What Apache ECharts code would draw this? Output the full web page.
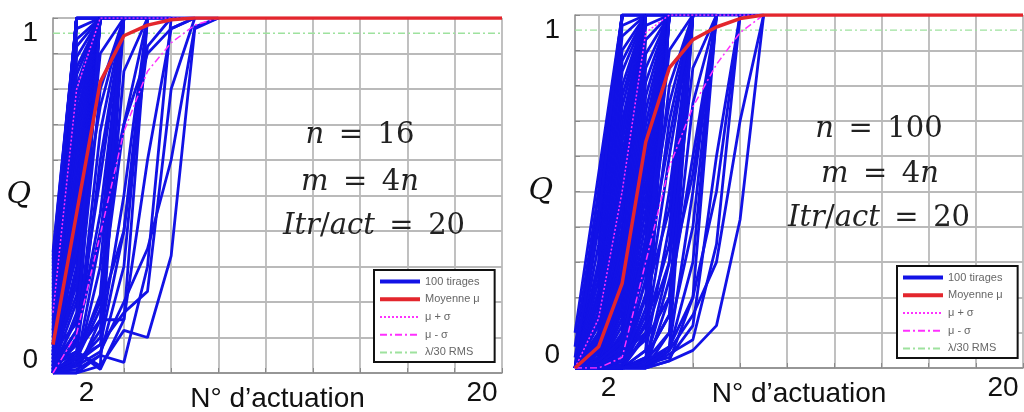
<!DOCTYPE html>
<html><head><meta charset="utf-8">
<script src="https://cdn.jsdelivr.net/npm/echarts@6/dist/echarts.min.js"></script>
<style>html,body{margin:0;padding:0;background:#fff}#c{width:1024px;height:412px}</style>
</head><body><div id="c"></div>
<script>
// ---------- data ----------
const actuations = ['1','2','3','4','5','6','7','8','9','10','11','12','13','14','15','16','17','18','19','20'];
const xTickShown = ['2','20'];
const yTickShown = [0, 1];
const legendNames = ['100 tirages', 'Moyenne \u03bc', '\u03bc + \u03c3', '\u03bc - \u03c3', '\u03bb/30 RMS'];
const rms30 = 0.957;

// Panel A : n = 16  (values at actuation 1, 2, 3, ...; each run listed until it reaches 1)
const meanA  = [0.08,0.45,0.82,0.95,0.98,0.995,1,1,1,1,1,1,1,1,1,1,1,1,1,1];
const plusA  = [0.17,0.80,1,1,1,1,1,1];
const minusA = [0.0,0.11,0.39,0.68,0.85,0.93,0.98,1];
const runsA = [
  // reach 1 at actuation 2
  [0.00,1,1,1,1,1,1,1],[0.01,1,1,1,1,1,1],[0.02,1,1,1,1,1],[0.03,1,1,1,1],[0.04,1,1,1],
  [0.05,1],[0.06,1],[0.07,1],[0.08,1],[0.09,1],[0.10,1],[0.11,1],[0.12,1],[0.13,1],[0.14,1],
  [0.15,1],[0.16,1],[0.17,1],[0.18,1],[0.19,1],[0.20,1],[0.21,1],[0.22,1],[0.23,1],[0.24,1],
  [0.25,1],[0.26,1],[0.27,1],[0.28,1],[0.29,1],[0.30,1],[0.31,1],[0.32,1],[0.33,1],[0.34,1],
  // reach 1 at actuation 3
  [0.00,0.97,1],[0.02,0.94,1],[0.05,0.92,1],[0.01,0.89,1],[0.08,0.86,1],[0.03,0.84,1],
  [0.00,0.81,1],[0.12,0.78,1],[0.04,0.76,1],[0.06,0.73,1],[0.00,0.70,1],[0.02,0.68,1],
  [0.05,0.65,1],[0.01,0.62,1],[0.08,0.60,1],[0.03,0.57,1],[0.00,0.54,1],[0.10,0.52,1],
  [0.04,0.49,1],[0.06,0.46,1],[0.00,0.44,1],[0.02,0.41,1],[0.05,0.38,1],[0.01,0.36,1],
  [0.07,0.33,1],[0.03,0.30,1],[0.00,0.28,1],[0.09,0.25,1],[0.04,0.22,1],[0.02,0.20,1],
  [0.00,0.17,1],[0.06,0.14,1],[0.01,0.12,1],[0.00,0.09,1],[0.03,0.06,1],
  // reach 1 at actuation 4
  [0.00,0.05,0.60,1],[0.02,0.15,0.80,1],[0.00,0.10,0.45,1],[0.03,0.25,0.90,1],
  [0.01,0.02,0.30,1],[0.05,0.35,0.75,1],[0.00,0.00,0.15,1],[0.00,0.06,0.02,1],
  [0.02,0.12,0.55,1],[0.00,0.04,0.22,1],[0.01,0.08,0.68,1],[0.00,0.03,0.38,1],
  // reach 1 at actuation 5 and later
  [0.00,0.03,0.10,0.50,1],[0.00,0.05,0.20,0.70,1],[0.00,0.01,0.05,0.30,1],
  [0.02,0.06,0.15,0.15,1],[0.00,0.02,0.12,0.85,1],[0.01,0.04,0.08,0.40,1],
  [0.00,0.00,0.05,0.03,0.30,1],[0.01,0.04,0.18,0.40,0.92,1],
  [0.00,0.10,0.40,0.70,0.90,0.97,1],
  [0.00,0.03,0.08,0.17,0.23,0.80,1],
  [0.02,0.06,0.01,0.15,0.60,0.97,1],
  [0.00,0.00,0.02,0.12,0.10,0.33,0.97,1],
  [0.00,0.02,0.06,0.20,0.35,0.60,0.975,1]
];

// Panel B : n = 100
const meanB  = [0.0,0.06,0.24,0.64,0.85,0.93,0.966,0.99,1,1,1,1,1,1,1,1,1,1,1,1];
const plusB  = [0.0,0.14,0.50,0.95,1,1,1,1,1];
const minusB = [0.0,0.0,0.03,0.30,0.57,0.74,0.86,0.95,1];
const runsB = [
  // reach 1 at actuation 3
  [0,0.50,1,1,1,1,1,1,1],[0,0.45,1,1,1,1,1],[0,0.40,1,1,1],[0,0.35,1],[0,0.30,1],
  [0,0.25,1],[0,0.20,1],[0,0.15,1],[0,0.10,1],[0,0.05,1],
  [0.10,0.55,1],[0.06,0.50,1],[0.03,0.42,1],
  // reach 1 at actuation 4
  [0,0.30,0.97,1],[0,0.28,0.94,1],[0,0.25,0.90,1],[0,0.22,0.87,1],[0,0.20,0.84,1],
  [0,0.18,0.80,1],[0,0.16,0.77,1],[0,0.15,0.74,1],[0,0.13,0.70,1],[0,0.12,0.67,1],
  [0,0.10,0.64,1],[0,0.09,0.60,1],[0,0.08,0.57,1],[0,0.07,0.54,1],[0,0.06,0.50,1],
  [0,0.05,0.47,1],[0,0.04,0.44,1],[0,0.03,0.40,1],[0,0.03,0.37,1],[0,0.02,0.34,1],
  [0,0.02,0.30,1],[0,0.01,0.27,1],[0,0.01,0.24,1],[0,0.00,0.20,1],[0,0.00,0.17,1],
  [0,0.00,0.14,1],[0,0.00,0.10,1],[0,0.00,0.07,1],[0,0.00,0.04,1],[0,0.00,0.02,1],
  // reach 1 at actuation 5
  [0,0.06,0.35,0.97,1],[0,0.05,0.32,0.93,1],[0,0.04,0.30,0.89,1],[0,0.03,0.27,0.85,1],
  [0,0.02,0.25,0.81,1],[0,0.02,0.22,0.77,1],[0,0.01,0.20,0.73,1],[0,0.01,0.18,0.69,1],
  [0,0,0.16,0.65,1],[0,0,0.14,0.61,1],[0,0,0.12,0.57,1],[0,0,0.10,0.53,1],[0,0,0.09,0.49,1],
  [0,0,0.08,0.45,1],[0,0,0.06,0.41,1],[0,0,0.05,0.37,1],[0,0,0.04,0.33,1],[0,0,0.03,0.29,1],
  [0,0,0.02,0.25,1],[0,0,0.01,0.21,1],[0,0,0,0.17,1],[0,0,0,0.13,1],[0,0,0,0.09,1],
  [0,0,0,0.05,1],[0,0,0,0.02,1],
  // reach 1 at actuation 6
  [0,0,0.02,0.30,0.90,1],[0,0,0.01,0.25,0.80,1],[0,0,0,0.20,0.70,1],[0,0,0,0.15,0.60,1],
  [0,0,0,0.10,0.50,1],[0,0,0,0.05,0.40,1],[0,0,0,0.02,0.30,1],[0,0,0,0,0.20,1],
  [0,0,0,0,0.10,1],[0,0,0,0,0.05,1],[0,0.02,0.08,0.35,0.75,1],[0,0,0.05,0.20,0.45,1],
  [0,0,0.02,0.12,0.35,1],[0,0,0,0.03,0.15,1],[0,0.01,0.06,0.28,0.65,1],
  // reach 1 at actuation 7
  [0,0,0,0.02,0.10,0.40,1],[0,0,0,0,0.05,0.30,1],[0,0,0.02,0.08,0.20,0.60,1],
  [0,0,0,0.03,0.15,0.75,1],[0,0,0,0,0.02,0.20,1],[0,0.01,0.04,0.10,0.30,0.85,1],
  [0,0,0,0.01,0.06,0.50,1],[0,0,0,0.02,0.25,0.55,1],
  // reach 1 at actuation 8 and 9
  [0,0,0,0.01,0.03,0.12,0.60,1],[0,0,0,0,0.04,0.08,0.35,1],[0,0,0,0.02,0.06,0.20,0.50,1],
  [0,0,0,0,0.02,0.05,0.12,0.42,1],[0,0,0,0.01,0.05,0.15,0.30,0.70,1]
];

// ---------- styles ----------
const BLUE = '#1212e6', RED = '#e3262d', MAG = '#ff30ff', GREEN = '#9ee29e';
const GRID_C = '#bababa', AXIS_C = '#8a8a8a';
const SANS = 'Liberation Sans', SERIF = 'DejaVu Serif';

function xAxisCfg(gi) {
  return {
    type: 'category', gridIndex: gi, data: actuations, boundaryGap: false,
    axisLine: { lineStyle: { color: AXIS_C, width: 1.5 } },
    axisTick: { inside: true, length: 5, interval: (i) => i % 2 === 1, lineStyle: { color: AXIS_C } },
    splitLine: { show: true, interval: (i) => i % 2 === 1, lineStyle: { color: GRID_C, width: 1.8 } },
    axisLabel: {
      interval: 0, margin: 6, color: '#111', fontSize: 28, fontFamily: SANS,
      formatter: (v) => v === xTickShown[0] ? '{a|' + v + '}' : (v === xTickShown[1] ? '{c|' + v + '}' : ''),
      rich: {
        a: { fontSize: 28, fontFamily: SANS, color: '#111', padding: [0, 0, 0, 20] },
        c: { fontSize: 28, fontFamily: SANS, color: '#111', padding: [0, 40, 0, 0] }
      }
    },
    name: "N\u00b0 d\u2019actuation", nameLocation: 'middle', nameGap: 12, nameMoveOverlap: false,
    nameTextStyle: { fontSize: 28, fontFamily: SANS, color: '#111' }
  };
}
function yAxisCfg(gi) {
  return {
    type: 'value', gridIndex: gi, min: 0, max: 1, interval: 0.1,
    axisLine: { show: true, lineStyle: { color: AXIS_C, width: 1.5 } },
    axisTick: { show: true, inside: true, length: 5, lineStyle: { color: AXIS_C } },
    splitLine: { show: true, lineStyle: { color: GRID_C, width: 1.8 } },
    axisLabel: {
      margin: 15, color: '#111', fontSize: 28, fontFamily: SANS,
      formatter: (v) => Math.abs(v - yTickShown[0]) < 1e-9 ? '{b|0}' : (Math.abs(v - yTickShown[1]) < 1e-9 ? '{t|1}' : ''),
      rich: {
        t: { fontSize: 28, fontFamily: SANS, color: '#111', padding: [30, 0, 0, 0] },
        b: { fontSize: 28, fontFamily: SANS, color: '#111', padding: [0, 0, 26, 0] }
      }
    },
    name: 'Q', nameLocation: 'middle', nameRotate: 0, nameGap: 22, nameMoveOverlap: false,
    nameTextStyle: { fontSize: 30, fontFamily: SERIF, fontStyle: 'italic', color: '#111' }
  };
}
function panelSeries(gi, runs, mean, plus, minus) {
  const s = [];
  s.push({ type: 'line', name: legendNames[4], xAxisIndex: gi, yAxisIndex: gi, symbol: 'none', silent: true,
    data: [[actuations[0], rms30], [actuations[19], rms30]],
    lineStyle: { color: GREEN, width: 1.3, type: [7, 3, 2, 3] } });
  runs.forEach(r => s.push({ type: 'line', name: legendNames[0], xAxisIndex: gi, yAxisIndex: gi, symbol: 'none',
    silent: true, data: r, lineStyle: { color: BLUE, width: 2.8 } }));
  s.push({ type: 'line', name: legendNames[2], xAxisIndex: gi, yAxisIndex: gi, symbol: 'none', silent: true,
    data: plus, lineStyle: { color: MAG, width: 1.5, type: [2, 2] } });
  s.push({ type: 'line', name: legendNames[3], xAxisIndex: gi, yAxisIndex: gi, symbol: 'none', silent: true,
    data: minus, lineStyle: { color: MAG, width: 1.5, type: [7, 3, 2, 3] } });
  s.push({ type: 'line', name: legendNames[1], xAxisIndex: gi, yAxisIndex: gi, symbol: 'none', silent: true,
    data: mean, lineStyle: { color: RED, width: 3.5 } });
  return s;
}
function legendCfg(left, top) {
  return {
    left: left, top: top, orient: 'vertical', selectedMode: false,
    itemWidth: 40, itemHeight: 14, itemGap: 6.5, padding: [6, 15, 4, 4],
    borderColor: '#111', borderWidth: 2, backgroundColor: '#fff',
    itemStyle: { opacity: 0 },
    textStyle: { fontSize: 11, color: '#666', fontFamily: SANS },
    data: legendNames.map((n, i) => i < 2 ? { name: n, lineStyle: { width: 4 } } : { name: n })
  };
}
function mathText(x, y, t) {
  const base = { fontSize: 29, fontFamily: SERIF, fill: '#222', color: '#222' };
  return { type: 'text', x: x, y: y, z: 5, silent: true,
    style: Object.assign({ text: t, align: 'center', verticalAlign: 'middle',
      rich: { i: Object.assign({ fontStyle: 'italic' }, base), r: base } }, base) };
}
const EQ = '\u2002=\u2002';

const chart = echarts.init(document.getElementById('c'), null, { renderer: 'canvas' });
chart.setOption({
  backgroundColor: '#fff',
  animation: false,
  grid: [
    { left: 53, top: 18, width: 449, height: 355, outerBoundsMode: 'none', containLabel: false },
    { left: 575, top: 15, width: 448, height: 353, outerBoundsMode: 'none', containLabel: false }
  ],
  xAxis: [xAxisCfg(0), xAxisCfg(1)],
  yAxis: [yAxisCfg(0), yAxisCfg(1)],
  legend: [legendCfg(374, 270), legendCfg(897, 266)],
  series: panelSeries(0, runsA, meanA, plusA, minusA).concat(panelSeries(1, runsB, meanB, plusB, minusB)),
  graphic: [
    mathText(360, 135, '{i|n}{r|' + EQ + '16}'),
    mathText(360, 182, '{i|m}{r|' + EQ + '4}{i|n}'),
    mathText(374, 226, '{i|Itr}{r|/}{i|act}{r|' + EQ + '20}'),
    mathText(879, 129, '{i|n}{r|' + EQ + '100}'),
    mathText(880, 174, '{i|m}{r|' + EQ + '4}{i|n}'),
    mathText(879, 218, '{i|Itr}{r|/}{i|act}{r|' + EQ + '20}')
  ]
});
</script>
</body></html>
